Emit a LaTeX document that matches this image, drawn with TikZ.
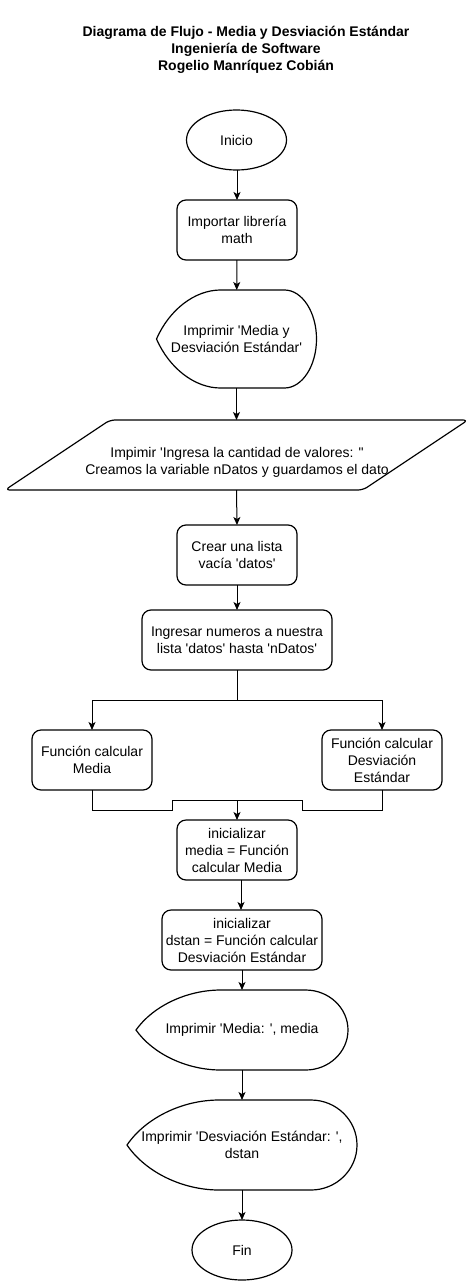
\documentclass[tikz,border=0pt]{standalone}
\usepackage{fontspec}
\setmainfont{Liberation Sans}
\usetikzlibrary{shapes.geometric,arrows.meta,calc}
\newcommand\qs{\textquotesingle}
\newcommand\dispnode[6]{%
  \node[txt, minimum width=#4, minimum height=#5] (#1) at (#2,#3) {#6};
  \draw[shapeline] ({#2-#4/2},#3)
    .. controls ({#2-0.42*#4},{#3-0.3*#5}) and ({#2-0.26*#4},{#3-#5/2}) .. ({#2-0.1*#4},{#3-#5/2})
    -- ({#2+0.3*#4},{#3-#5/2})
    .. controls ({#2+0.41*#4},{#3-#5/2}) and ({#2+#4/2},{#3-0.275*#5}) .. ({#2+#4/2},#3)
    .. controls ({#2+#4/2},{#3+0.275*#5}) and ({#2+0.41*#4},{#3+#5/2}) .. ({#2+0.3*#4},{#3+#5/2})
    -- ({#2-0.1*#4},{#3+#5/2})
    .. controls ({#2-0.26*#4},{#3+#5/2}) and ({#2-0.42*#4},{#3+0.3*#5}) .. cycle;
}
\begin{document}
\begin{tikzpicture}[x=1pt,y=-1pt,
  every node/.style={font=\fontsize{14}{17}\selectfont},
  txt/.style={inner sep=0pt, outer sep=0pt, align=center},
  shapeline/.style={draw=black, line width=1.2pt},
  box/.style={txt, shapeline, rounded corners=9pt, minimum width=120, minimum height=60},
  oval/.style={txt, shapeline, ellipse, minimum width=100, minimum height=60},
  arr/.style={line width=1pt, -{Stealth[length=8pt,width=7pt,inset=2pt]}},
  conn/.style={line width=1pt}]
\useasboundingbox (0,0) rectangle (472,1282);

\node[txt, font=\fontsize{14}{17}\selectfont\bfseries] (title) at (246,50)
  {Diagrama de Flujo - Media y Desviación Estándar\\Ingeniería de Software\\Rogelio Manríquez Cobián};

\node[oval] (inicio) at (236.5,140) {Inicio};
\node[box] (importar) at (237,230) {Importar librería\\math};
\dispnode{disp1}{236.5}{339}{160}{98}{Imprimir \qs Media y\\Desviación Estándar\qs}

\node[txt, minimum width=463, minimum height=70] (para) at (236.5,455) {};
\draw[shapeline, rounded corners=5pt] (110,420) -- (468,420) -- (363,490) -- (5,490) -- cycle;
\node[txt] (paratext) at (237,462) {Impimir \qs Ingresa la cantidad de valores: \textquotedbl\\ Creamos la variable nDatos y guardamos el dato};

\node[box] (crear) at (237,555) {Crear una lista\\vacía \qs datos\qs};
\node[box, minimum width=190] (ingresar) at (237,640) {Ingresar numeros a nuestra\\lista \qs datos\qs\ hasta \qs nDatos\qs};
\node[box] (fmedia) at (92,760) {Función calcular\\Media};
\node[box] (fdesv) at (382,760) {Función calcular\\Desviación\\Estándar};
\node[box] (imedia) at (237,850) {inicializar\\media = Función\\calcular Media};
\node[box, minimum width=160] (idstan) at (242,940) {inicializar\\dstan = Función calcular\\Desviación Estándar};
\dispnode{disp2}{242}{1030}{212}{80}{Imprimir \qs Media: \qs, media}
\dispnode{disp3}{242}{1145}{230}{90}{Imprimir \qs Desviación Estándar: \qs,\\dstan}
\node[oval] (fin) at (242,1250) {Fin};

\coordinate (split) at (237,700);
\coordinate (jl) at (172,810);
\coordinate (jr) at (302,810);
\coordinate (join) at (237,800);

\draw[arr] (inicio.south -| importar.north) -- (importar.north);
\draw[arr] (importar) -- (disp1);
\draw[arr] (disp1.south) -- (para.north);
\draw[arr] (para.south) -- (crear.north);
\draw[arr] (crear) -- (ingresar);
\draw[conn] (ingresar.south) -- (split);
\draw[arr] (split) -| (fmedia.north);
\draw[arr] (split) -| (fdesv.north);
\draw[conn] (fmedia.south) |- (jl) |- (join);
\draw[conn] (fdesv.south) |- (jr) |- (join);
\draw[arr] (join) -- (imedia.north);
\draw[arr] (imedia.south -| 241,0) -- (idstan.north -| 241,0);
\draw[arr] (idstan) -- (disp2);
\draw[arr] (disp2) -- (disp3);
\draw[arr] (disp3) -- (fin);
\end{tikzpicture}
\end{document}
